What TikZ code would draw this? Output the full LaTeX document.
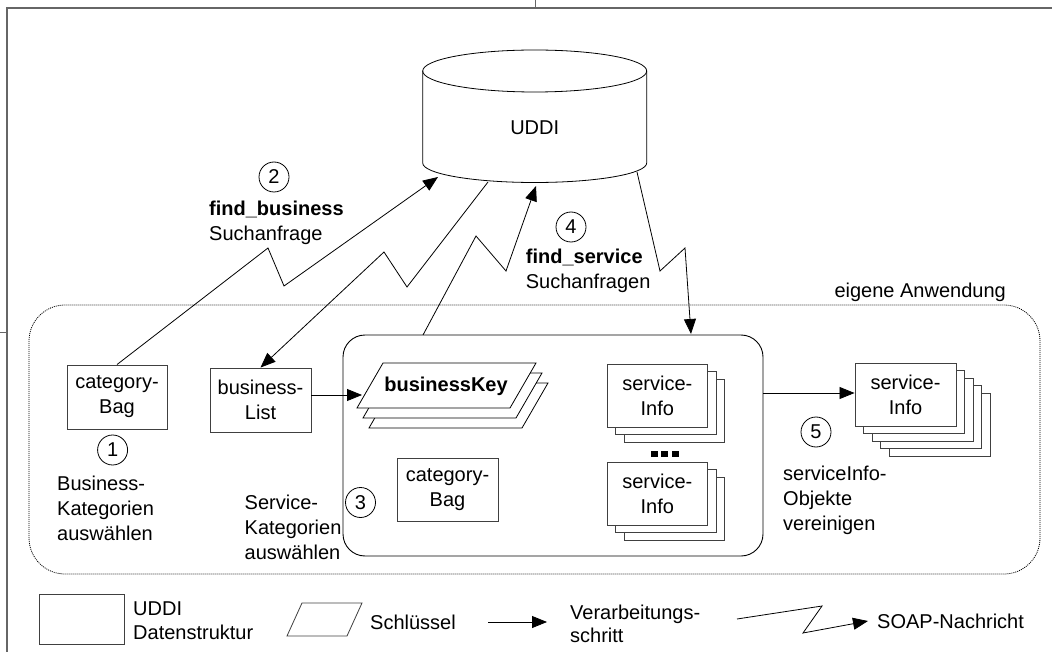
\documentclass[tikz,border=0pt]{standalone}
\usepackage{fontspec}
\setmainfont{Liberation Sans}
\usetikzlibrary{arrows.meta,calc}
\newcommand\dfs{\fontsize{20}{25}\selectfont}
\begin{document}
\begin{tikzpicture}[x=1pt,y=-1pt,
  lw/.style={line width=0.8pt},
  box/.style={draw=black!75, line width=0.9pt, fill=white, inner sep=0pt, align=center, font=\dfs},
  num/.style={draw, circle, line width=0.8pt, minimum size=30pt, inner sep=0pt, font=\dfs},
  txt/.style={align=left, anchor=west, inner sep=0pt, font=\dfs},
  arr/.style={line width=0.8pt, -{Triangle[length=15pt,width=12pt]}},
  keyshape/.style={draw=black, line width=0.8pt, fill=white}
]
\useasboundingbox (0,0) rectangle (1052,652);
% page frame
\draw[black!60, line width=1.5pt] (7,652) -- (7,8) -- (1052,8);
\draw[black!60, line width=0.8pt] (535,0) -- (535,8);
\draw[black!60, line width=0.8pt] (0,332) -- (7,332);

% application area
\draw[line width=0.8pt, dash pattern=on 1pt off 1pt, rounded corners=36pt] (29,305) rectangle (1040,574);
\node[txt, anchor=east] (eig) at (1006,292) {eigene Anwendung};

% UDDI cylinder
\draw[lw, fill=white] (422.7,71) -- (422.7,163) arc[start angle=180,end angle=360,x radius=112pt,y radius=19.5pt] -- (646.7,71);
\draw[lw] (534.7,71) ellipse [x radius=112pt, y radius=21pt];
\node[font=\dfs] (uddi) at (534.7,128) {UDDI};

% inner container
\node[draw, line width=0.9pt, rounded corners=22pt, minimum width=420pt, minimum height=221pt] (app) at (553,445.5) {};

% left boxes
\node[box, minimum width=100pt, minimum height=64pt] (cb1) at (117,397) {category-\\Bag};
\node[box, minimum width=101pt, minimum height=64pt] (bl) at (260.5,400) {business-\\List};
\node[box, minimum width=101pt, minimum height=63pt] (cb2) at (447.5,489.5) {category-\\Bag};

% businessKey stack
\foreach \k in {2,1}
  \draw[keyshape] ({383+6*\k},{363+10*\k}) -- ({536+6*\k},{363+10*\k}) -- ({510+6*\k},{408+10*\k}) -- ({357+6*\k},{408+10*\k}) -- cycle;
\draw[keyshape] (383,363) -- (536,363) -- (510,408) -- (357,408) -- cycle;
\node[font=\dfs\bfseries] (bk) at (446,386) {businessKey};

% serviceInfo stacks inside
\foreach \k in {2,1}
  \draw[draw=black!75, line width=0.9pt, fill=white] ({607+8.5*\k},{364+7.8*\k}) rectangle ++(100.6,63);
\node[box, minimum width=100.6pt, minimum height=63pt] (si1) at (657.3,395.5) {service-\\Info};
\foreach \k in {2,1}
  \draw[draw=black!75, line width=0.9pt, fill=white] ({607+8.5*\k},{462+7.8*\k}) rectangle ++(100.6,63);
\node[box, minimum width=100.6pt, minimum height=63pt] (si2) at (657.3,493.5) {service-\\Info};
\foreach \xx in {654,664.5,675}
  \fill (\xx-3.5,451) rectangle ++(7,6);

% merged serviceInfo stack
\foreach \k in {4,3,2,1}
  \draw[draw=black!75, line width=0.9pt, fill=white] ({855+8.5*\k},{363+7.5*\k}) rectangle ++(101,63);
\node[box, minimum width=101pt, minimum height=63pt] (si3) at (905.5,394.5) {service-\\Info};

% numbered circles
\node[num] (c1) at (112.6,450) {1};
\node[num] (c2) at (274,177) {2};
\node[num] (c3) at (360.5,502.5) {3};
\node[num] (c4) at (571,227) {4};
\node[num] (c5) at (816,432) {5};

% labels
\node[txt] (t1) at (57,508) {Business-\\Kategorien\\auswählen};
\node[txt] (t3) at (244.5,527) {Service-\\Kategorien\\auswählen};
\node[txt] (t5) at (783,500) {serviceInfo-\\Objekte\\vereinigen};
\node[txt] (t2) at (209,223) {\textbf{find\_business}\\Suchanfrage};
\node[txt] (t4) at (525.7,270.5) {\textbf{find\_service}\\Suchanfragen};

% connector points
\coordinate (u2) at (438,177);
\coordinate (ubl) at (488,182);
\coordinate (u4) at (536,186);
\coordinate (usi) at (637,172);
\coordinate (a4) at (423,335);
\coordinate (asi) at (691,334);
\coordinate (bkW) at (362,395);
\coordinate (appE) at (763,393);

% SOAP messages
\draw[arr] (cb1.north) -- (268,248) -- (284,286) -- (u2);
\draw[arr] (ubl) -- (407,287) -- (384,252) -- (bl.north);
\draw[arr] (a4) -- (476,236) -- (506,271) -- (u4);
\draw[arr] (usi) -- (660,271) -- (685,248) -- (asi);

% processing steps
\draw[arr] (bl.east |- bkW) -- (bkW);
\draw[arr] (appE) -- (si3.west |- appE);

% legend
\node[box, minimum width=85pt, minimum height=50pt] (lg1) at (81.5,619) {};
\node[txt, font=\fontsize{20}{24}\selectfont] (lt1) at (133,621) {UDDI\\Datenstruktur};
\draw[draw=black!75, line width=0.8pt] (287,636) -- (302,603) -- (362,603) -- (347,636) -- cycle;
\node[txt] (lt2) at (370,622) {Schlüssel};
\coordinate (la1) at (488,622);
\coordinate (la2) at (547,622);
\draw[arr] (la1) -- (la2);
\node[txt, font=\fontsize{20}{23}\selectfont] (lt3) at (570,623.5) {Verarbeitungs-\\schritt};
\coordinate (ls1) at (737,619);
\coordinate (ls2) at (868,621);
\draw[arr] (ls1) -- (822,606) -- (803,633) -- (ls2);
\node[txt] (lt4) at (877,621) {SOAP-Nachricht};
\end{tikzpicture}
\end{document}
